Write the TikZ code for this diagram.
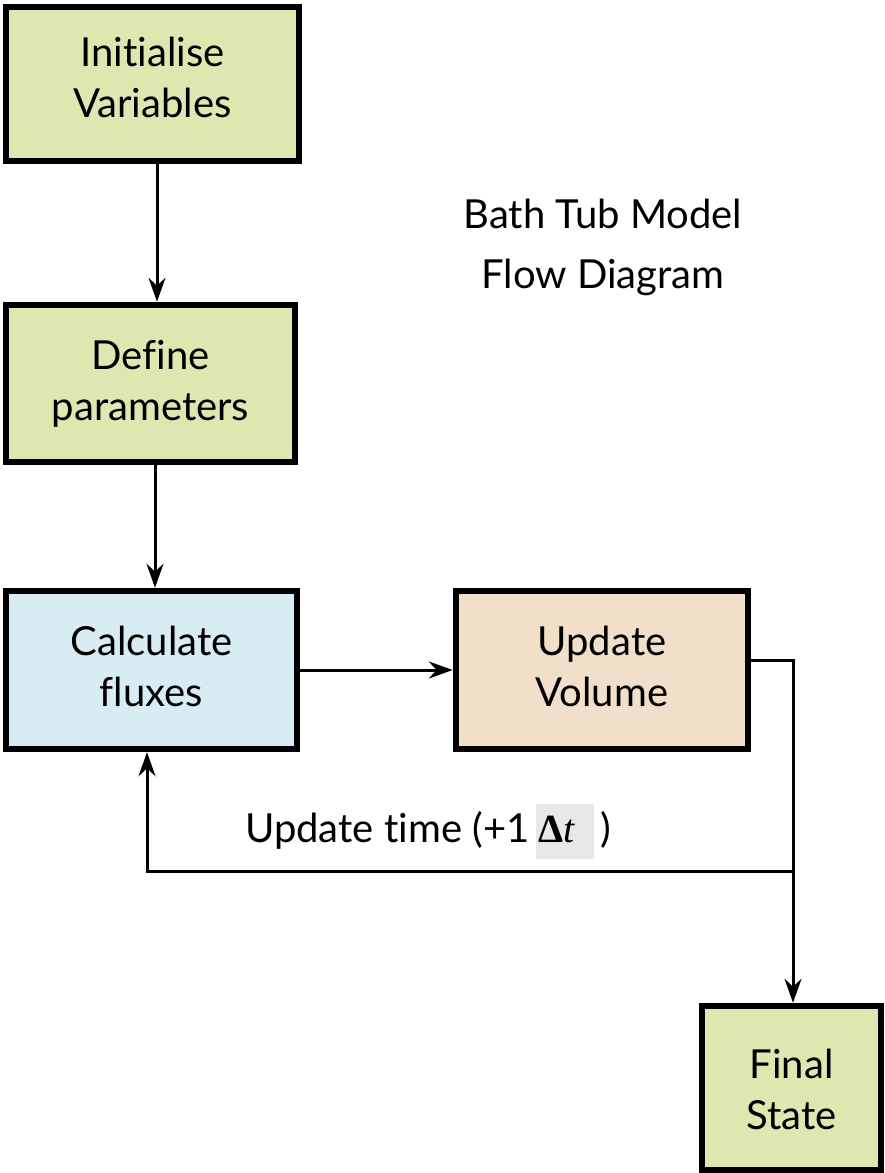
\documentclass[tikz,border=0pt]{standalone}
\usepackage{fontspec}
\setmainfont{Lato}[Ligatures=NoCommon]
\newfontfamily\deltafont{Liberation Serif}
\usetikzlibrary{arrows.meta}
\definecolor{boxgreen}{HTML}{DDE8B1}
\definecolor{boxblue}{HTML}{D7EDF3}
\definecolor{boxtan}{HTML}{F1DFC9}
\definecolor{dtgray}{HTML}{E8E8E8}
\tikzset{
  flowbox/.style={draw=black, line width=6.5pt, inner sep=0pt},
  boxtext/.style={align=center, inner sep=0pt, font=\fontsize{40}{51}\selectfont},
  conn/.style={line width=3pt, -{Stealth[length=24pt,width=17pt,inset=8pt]}},
  labeltext/.style={font=\fontsize{40}{51}\selectfont, inner sep=0pt}
}
\begin{document}
\begin{tikzpicture}[x=1pt,y=-1pt]
\useasboundingbox (0,0) rectangle (884,1173);
\node[flowbox, fill=boxgreen, minimum width=293pt, minimum height=154pt,
  label={[boxtext,yshift=7pt]center:Initialise\\Variables}] (init) at (152.5,84) {};
\node[flowbox, fill=boxgreen, minimum width=289pt, minimum height=157pt,
  label={[boxtext]center:Define\\parameters}] (def) at (150.5,383.5) {};
\node[flowbox, fill=boxblue, minimum width=291pt, minimum height=158pt,
  label={[boxtext,yshift=4pt]center:Calculate\\fluxes}] (calc) at (151.5,670) {};
\node[flowbox, fill=boxtan, minimum width=292pt, minimum height=158pt,
  label={[boxtext,yshift=4pt]center:Update\\Volume}] (upd) at (602,670) {};
\node[flowbox, fill=boxgreen, minimum width=179pt, minimum height=164pt,
  label={[boxtext,yshift=-1pt]center:Final\\State}] (final) at (791.5,1088) {};
\node[font=\fontsize{40}{60}\selectfont, inner sep=0pt, align=center] (title) at (603,247) {Bath Tub Model\\Flow Diagram};
\node[labeltext, anchor=base west] (lbl) at (245,842) {Update time (+1\,\fboxsep=2pt\colorbox{dtgray}{\strut{\deltafont\bfseries Δ}{\deltafont\itshape t}\hspace{0.45em}}\,)};

\draw[conn] ([xshift=4.5pt]init.south) -- ([xshift=4.5pt]init.south |- def.north);
\draw[conn] ([xshift=4.5pt]def.south) -- ([xshift=4.5pt]def.south |- calc.north);
\draw[conn] (calc.east) -- (upd.west);
\draw[conn] ([yshift=10pt]upd.east) -| ([xshift=1.5pt]final.north);
\coordinate (junc) at (793,871);
\draw[conn] (junc) -| ([xshift=-4.5pt]calc.south);
\end{tikzpicture}
\end{document}
